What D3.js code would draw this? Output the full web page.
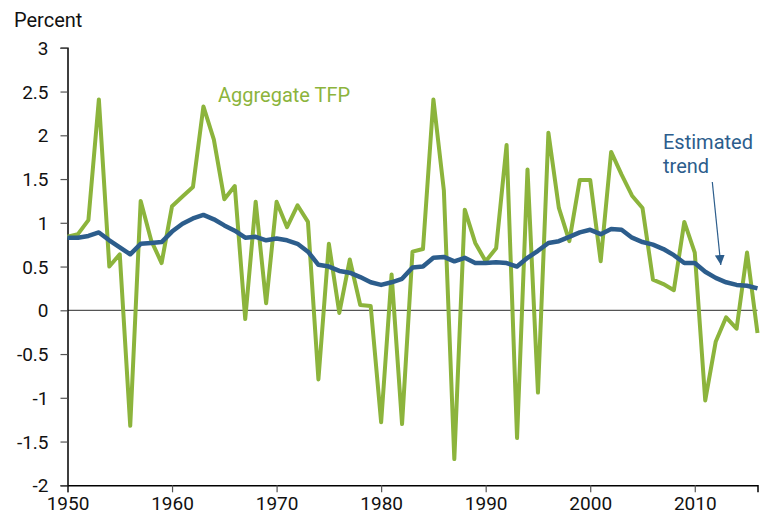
<!DOCTYPE html>
<html>
<head>
<meta charset="utf-8">
<script src="https://cdn.jsdelivr.net/npm/d3@7"></script>
<style>
  body { margin: 0; background: #fff; }
  text { font-family: Roboto, "Noto Sans", sans-serif; }
</style>
</head>
<body>
<div id="my_dataviz"></div>
<script>
const years = d3.range(1950, 2017)

const tfp_values = [
  0.84, 0.87, 1.03, 2.41, 0.50, 0.64, -1.32, 1.25, 0.80, 0.54,
  1.19, 1.30, 1.41, 2.33, 1.95, 1.27, 1.42, -0.10, 1.24, 0.08,
  1.24, 0.95, 1.20, 1.01, -0.79, 0.76, -0.03, 0.58, 0.06, 0.05,
  -1.28, 0.41, -1.30, 0.67, 0.70, 2.41, 1.37, -1.70, 1.15, 0.77,
  0.56, 0.71, 1.89, -1.46, 1.61, -0.94, 2.03, 1.17, 0.79, 1.49,
  1.49, 0.56, 1.81, 1.55, 1.31, 1.17, 0.35, 0.30, 0.23, 1.01,
  0.66, -1.03, -0.36, -0.08, -0.21, 0.66, -0.26
]

const trend_values = [
  0.83, 0.83, 0.85, 0.89, 0.80, 0.72, 0.64, 0.76, 0.77, 0.78,
  0.90, 0.99, 1.05, 1.09, 1.04, 0.97, 0.91, 0.83, 0.84, 0.80,
  0.82, 0.80, 0.76, 0.67, 0.52, 0.50, 0.45, 0.43, 0.38, 0.32,
  0.29, 0.32, 0.36, 0.49, 0.50, 0.60, 0.61, 0.56, 0.60, 0.54,
  0.54, 0.55, 0.54, 0.50, 0.60, 0.68, 0.77, 0.79, 0.84, 0.89,
  0.92, 0.87, 0.93, 0.92, 0.83, 0.78, 0.75, 0.70, 0.63, 0.54,
  0.54, 0.44, 0.37, 0.32, 0.29, 0.28, 0.25
]

const x_ticks = [1950, 1960, 1970, 1980, 1990, 2000, 2010]
const y_ticks = [-2, -1.5, -1, -0.5, 0, 0.5, 1, 1.5, 2, 2.5, 3]

const green = "#8cb43c"
const blue = "#2c5d8c"

const width = 765
const height = 515
const margin = { top: 47.8, right: 7.5, bottom: 29.7, left: 67.5 }

const svg = d3.select("#my_dataviz")
  .append("svg")
  .attr("width", width)
  .attr("height", height)

const x = d3.scaleLinear()
  .domain([1950, 2016])
  .range([margin.left, width - margin.right])

const y = d3.scaleLinear()
  .domain([-2, 3])
  .range([height - margin.bottom, margin.top])

// zero line
svg.append("line")
  .attr("x1", x(1950))
  .attr("x2", x(2016))
  .attr("y1", y(0))
  .attr("y2", y(0))
  .attr("stroke", "#555")
  .attr("stroke-width", 1.3)

const x_axis = svg.append("g")
  .attr("transform", `translate(0,${y(-2)})`)
  .call(d3.axisBottom(x).tickValues(x_ticks).tickFormat(d3.format("d")).tickSizeOuter(0).tickSize(7).tickPadding(4))

const y_axis = svg.append("g")
  .attr("transform", `translate(${x(1950)},0)`)
  .call(d3.axisLeft(y).tickValues(y_ticks).tickFormat(d => d).tickSizeOuter(0).tickSize(7).tickPadding(12))

for (const axis of [x_axis, y_axis]) {
  axis.select(".domain").attr("stroke", "#000").attr("stroke-width", 1.5)
  axis.selectAll(".tick line").attr("stroke", "#555").attr("stroke-width", 1.2)
  axis.selectAll(".tick text")
    .attr("fill", "#111")
    .style("font-size", "19px")
    .style("font-family", "Roboto, sans-serif")
}
y_axis.selectAll(".tick text").attr("dy", "0.35em")

const line = d3.line()
  .x((d, i) => x(years[i]))
  .y(d => y(d))

svg.append("path")
  .datum(tfp_values)
  .attr("d", line)
  .style("fill", "none")
  .attr("stroke", green)
  .attr("stroke-width", 4)
  .attr("stroke-linejoin", "round")

svg.append("path")
  .datum(trend_values)
  .attr("d", line)
  .style("fill", "none")
  .attr("stroke", blue)
  .attr("stroke-width", 4.5)
  .attr("stroke-linejoin", "round")

// labels
svg.append("text")
  .attr("x", 14)
  .attr("y", 26.5)
  .style("font-size", "20px")
  .attr("fill", "#111")
  .text("Percent")

svg.append("text")
  .attr("x", 218)
  .attr("y", 101.5)
  .style("font-size", "20px")
  .attr("fill", green)
  .text("Aggregate TFP")

svg.append("text")
  .attr("x", 663)
  .attr("y", 149)
  .style("font-size", "20px")
  .attr("fill", blue)
  .text("Estimated")

svg.append("text")
  .attr("x", 663)
  .attr("y", 173)
  .style("font-size", "20px")
  .attr("fill", blue)
  .text("trend")

// arrow to the trend line
svg.append("defs")
  .append("marker")
  .attr("id", "arrow_head")
  .attr("viewBox", "0 0 10 10")
  .attr("refX", 10)
  .attr("refY", 5)
  .attr("markerWidth", 10)
  .attr("markerHeight", 10)
  .attr("markerUnits", "userSpaceOnUse")
  .attr("orient", "auto")
  .append("path")
  .attr("d", "M0,0L10,5L0,10Z")
  .attr("fill", blue)

svg.append("line")
  .attr("x1", 712.3)
  .attr("y1", 182)
  .attr("x2", 720.8)
  .attr("y2", 265)
  .attr("stroke", blue)
  .attr("stroke-width", 1.2)
  .attr("marker-end", "url(#arrow_head)")
</script>
</body>
</html>
